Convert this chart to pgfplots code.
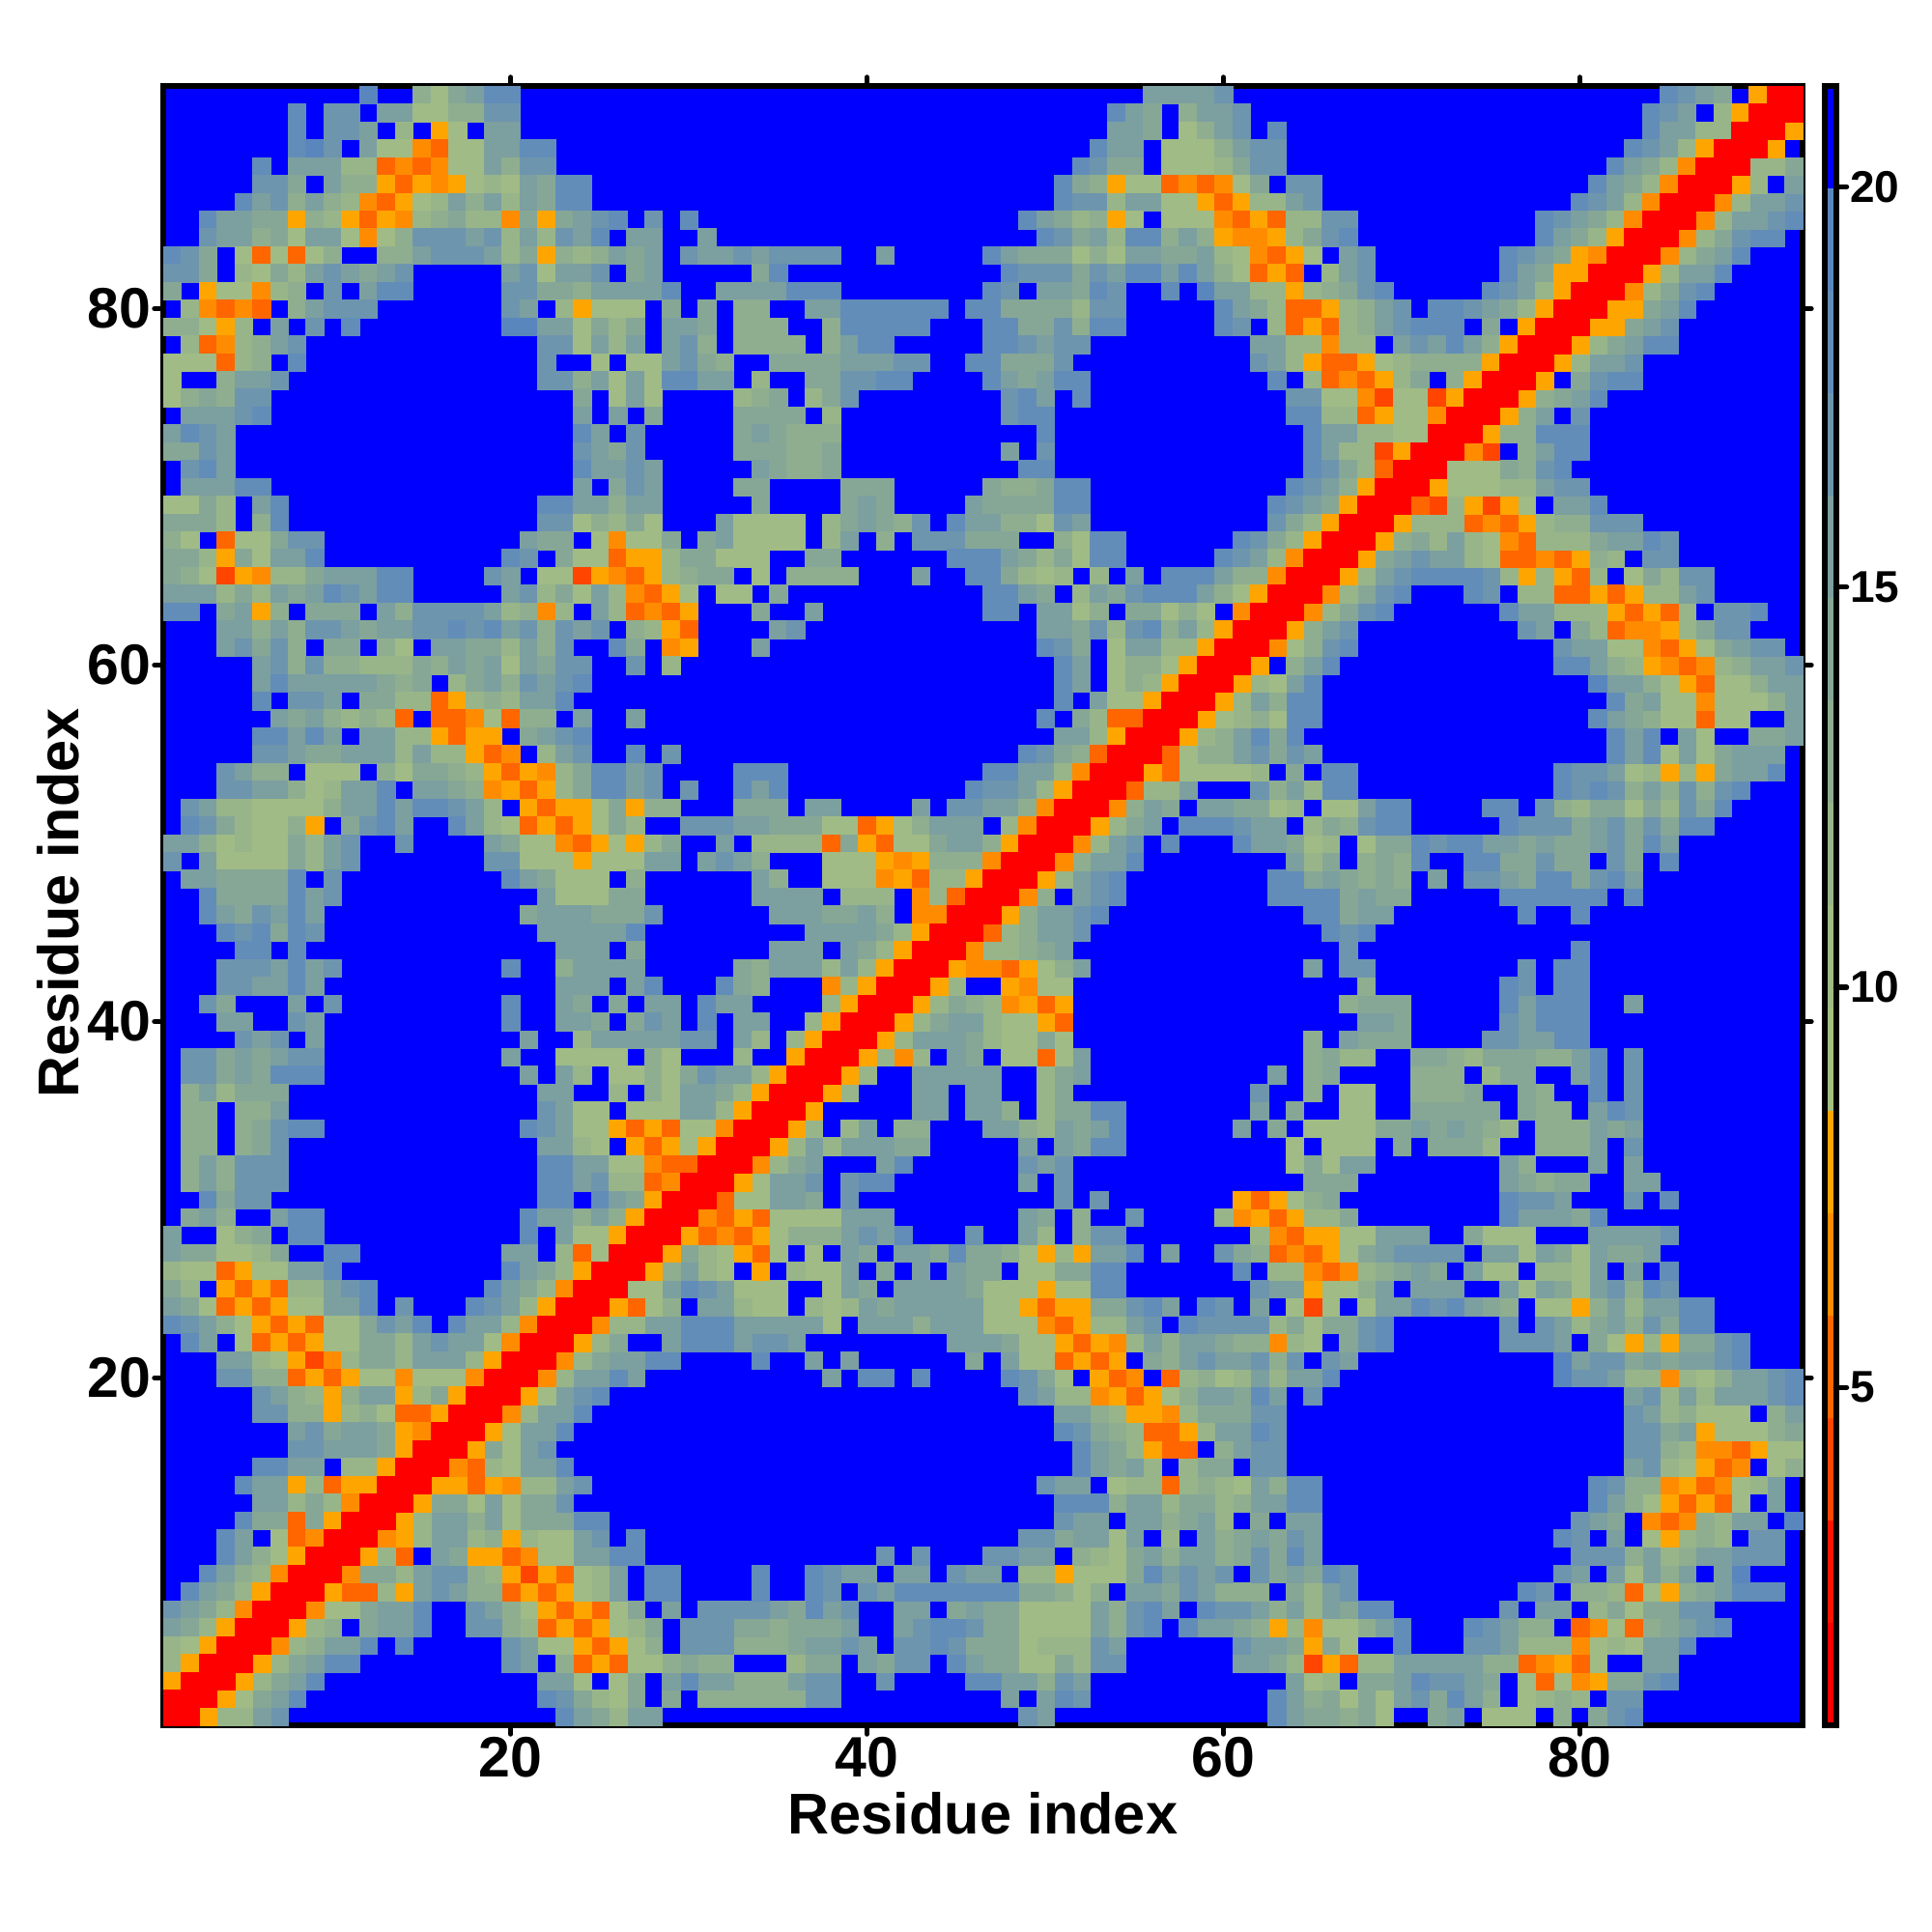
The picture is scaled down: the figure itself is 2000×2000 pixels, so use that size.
\documentclass[border=0pt]{standalone}
\usepackage{fontspec}
\setmainfont{Liberation Sans}
\usepackage{pgfplots}
\pgfplotsset{compat=1.18}
\definecolor{lva}{RGB}{255,0,0}
\definecolor{lvb}{RGB}{255,20,0}
\definecolor{lvc}{RGB}{255,69,0}
\definecolor{lvd}{RGB}{255,102,0}
\definecolor{lve}{RGB}{255,140,0}
\definecolor{lvf}{RGB}{255,165,0}
\definecolor{lvg}{RGB}{165,191,129}
\definecolor{lvh}{RGB}{160,187,133}
\definecolor{lvi}{RGB}{152,181,137}
\definecolor{lvj}{RGB}{143,174,143}
\definecolor{lvk}{RGB}{134,167,150}
\definecolor{lvl}{RGB}{124,159,160}
\definecolor{lvm}{RGB}{110,149,174}
\definecolor{lvn}{RGB}{98,141,184}
\definecolor{lvo}{RGB}{90,134,190}
\definecolor{lvp}{RGB}{0,0,255}
\pgfplotsset{
  cell/.style={scatter, only marks, mark=square*, mark size=9.26pt, forget plot,
    mark options={line width=0.2pt}, point meta=explicit,
    scatter/use mapped color={draw=mapped color,fill=mapped color}},
  frame/.style={scale only axis, axis on top, tick align=outside,
    axis line style={line width=6pt},
    tick style={line width=5.5pt, line cap=round, black},
    /pgf/number format/assume math mode=true},
}
% one residue per line: x value pairs for x<=y, drawn for (x,y) and (y,x)
\newcommand{\cells}[2]{%
  \addplot[cell] table[row sep=crcr, header=false, x index=0, y expr=#1, meta index=1] {#2};
  \addplot[cell] table[row sep=crcr, header=false, y index=0, x expr=#1, meta index=1] {#2};
}
\begin{document}
\begin{tikzpicture}
\path[use as bounding box] (0,0) rectangle (2000pt,2000pt);
\begin{axis}[frame,
  at={(169pt,214pt)}, anchor=south west, width=1697pt, height=1697pt,
  xmin=0.5, xmax=92.5, ymin=0.5, ymax=92.5,
  xtick={20,40,60,80}, ytick={20,40,60,80},
  tick pos=both, xticklabel pos=lower, yticklabel pos=left,
  major tick length=9pt,
  axis background/.style={fill=lvp},
  colormap={dist}{color=(lva) color=(lvb) color=(lvc) color=(lvd) color=(lve) color=(lvf) color=(lvg) color=(lvh)
    color=(lvi) color=(lvj) color=(lvk) color=(lvl) color=(lvm) color=(lvn) color=(lvo) color=(lvp)},
  colormap access=piecewise constant,
  point meta min=0.78, point meta max=21.26,
  ticklabel style={font=\fontsize{59}{60}\selectfont\bfseries},
  label style={font=\fontsize{59.5}{60}\selectfont\bfseries},
  xlabel={Residue index}, ylabel={Residue index},
  xlabel style={at={(axis description cs:0.5,-0.0536)}, anchor=center},
  ylabel style={at={(axis description cs:-0.0642,0.5015)}, anchor=center, rotate=0},
]
\cells{92}{12 19\\15 13\\16 11\\17 14\\18 16\\19 18\\20 18\\56 16\\57 15\\58 15\\59 15\\60 17\\85 18\\86 17\\87 15\\88 14\\90 8\\91 1\\92 1\\}
\cells{91}{8 18\\10 17\\11 17\\13 15\\14 15\\15 11\\16 11\\17 13\\18 13\\19 17\\20 17\\54 18\\55 15\\56 14\\58 13\\59 15\\60 15\\61 17\\84 18\\85 17\\86 15\\88 12\\89 8\\90 1\\91 1\\}
\cells{90}{8 18\\10 17\\11 17\\12 15\\14 12\\16 8\\17 11\\19 15\\20 15\\54 15\\55 15\\56 14\\58 11\\59 13\\60 15\\61 17\\63 18\\84 18\\85 15\\86 15\\87 12\\88 12\\89 1\\90 1\\}
\cells{89}{8 18\\9 19\\10 17\\12 15\\13 11\\14 11\\15 6\\16 5\\17 10\\18 11\\19 15\\20 15\\21 18\\22 18\\53 18\\54 15\\55 15\\57 11\\58 11\\59 11\\60 13\\61 15\\62 17\\63 17\\83 18\\84 17\\85 15\\86 12\\87 8\\88 1\\89 1\\}
\cells{88}{6 18\\8 15\\9 16\\10 15\\11 12\\12 12\\13 5\\14 6\\15 5\\16 6\\17 10\\18 11\\19 15\\20 13\\21 17\\22 17\\52 18\\53 17\\54 14\\55 14\\57 11\\58 11\\59 11\\60 12\\61 14\\62 17\\63 17\\82 18\\83 16\\84 14\\85 12\\86 7\\87 1\\88 1\\}
\cells{87}{6 17\\7 17\\8 14\\10 15\\11 13\\12 13\\13 8\\14 5\\15 8\\16 7\\17 8\\18 11\\19 12\\20 10\\21 15\\22 14\\23 18\\24 18\\51 18\\52 14\\53 13\\54 8\\55 11\\56 11\\57 5\\58 6\\59 5\\60 7\\61 11\\62 14\\64 17\\65 17\\81 18\\82 16\\83 14\\84 12\\85 7\\86 1\\87 1\\}
\cells{86}{5 18\\6 16\\7 17\\8 13\\9 15\\10 13\\11 12\\12 6\\13 5\\14 8\\15 11\\16 12\\17 15\\18 13\\19 15\\20 12\\21 16\\22 14\\23 18\\24 18\\51 18\\52 17\\53 17\\54 12\\55 15\\56 15\\57 11\\58 11\\59 8\\60 5\\61 8\\62 12\\63 12\\64 15\\65 17\\80 18\\81 17\\82 15\\83 12\\84 7\\85 1\\86 1\\}
\cells{85}{3 18\\4 16\\5 16\\6 14\\7 14\\8 8\\9 13\\10 12\\11 8\\12 5\\13 8\\14 6\\15 12\\16 13\\17 14\\18 12\\19 12\\20 7\\21 14\\22 8\\23 14\\24 15\\25 17\\26 18\\28 17\\30 18\\49 18\\50 16\\51 14\\52 12\\53 13\\54 8\\55 11\\57 11\\58 11\\59 10\\60 6\\61 5\\62 8\\63 5\\64 12\\65 12\\66 17\\67 17\\78 18\\79 17\\80 15\\81 14\\82 12\\83 7\\84 1\\85 1\\}
\cells{84}{3 17\\4 16\\5 16\\6 13\\7 14\\8 11\\9 15\\10 15\\11 11\\12 6\\13 11\\14 13\\15 17\\16 17\\17 17\\18 15\\19 17\\20 12\\21 16\\22 12\\23 17\\24 16\\25 18\\27 15\\28 15\\31 16\\50 18\\51 17\\52 14\\53 16\\54 12\\55 18\\56 18\\57 13\\58 15\\59 13\\60 8\\61 7\\62 6\\63 8\\64 12\\65 14\\66 17\\67 18\\78 18\\79 16\\80 14\\81 12\\82 8\\83 1\\84 1\\}
\cells{83}{1 18\\2 17\\3 14\\5 11\\6 5\\7 11\\8 5\\9 11\\10 13\\13 13\\14 13\\15 16\\16 17\\17 17\\18 17\\19 15\\20 12\\21 14\\22 8\\23 13\\24 12\\25 13\\26 15\\27 14\\28 15\\30 17\\31 16\\32 15\\33 17\\34 15\\35 17\\36 17\\37 17\\38 17\\41 16\\47 18\\48 15\\49 14\\50 14\\51 14\\52 11\\53 13\\54 11\\55 15\\56 16\\57 14\\58 14\\59 15\\60 12\\61 11\\62 7\\63 5\\64 8\\65 11\\67 15\\68 17\\76 18\\77 17\\78 15\\79 14\\80 8\\81 7\\82 1\\83 1\\}
\cells{82}{1 17\\2 17\\3 14\\5 12\\6 11\\7 14\\8 12\\9 16\\10 17\\11 15\\12 14\\13 15\\14 17\\20 15\\21 17\\22 11\\23 16\\24 15\\25 17\\27 14\\28 16\\34 14\\35 18\\48 18\\49 17\\50 17\\51 17\\52 14\\53 17\\54 16\\55 18\\56 18\\57 15\\58 18\\59 15\\60 13\\61 11\\62 5\\63 8\\64 5\\66 12\\67 15\\68 17\\76 18\\77 15\\78 14\\79 8\\80 8\\81 1\\82 1\\}
\cells{81}{1 14\\3 8\\4 11\\5 11\\6 7\\7 12\\8 13\\10 17\\12 15\\13 18\\14 18\\20 17\\21 17\\22 14\\23 14\\24 13\\25 15\\26 15\\27 15\\28 15\\29 18\\32 15\\33 15\\34 15\\35 16\\36 18\\37 18\\38 18\\47 18\\48 17\\50 15\\51 15\\52 14\\53 18\\54 17\\57 18\\59 19\\60 16\\61 15\\62 12\\63 12\\64 8\\65 12\\66 13\\67 14\\68 17\\69 18\\75 18\\76 17\\77 15\\78 12\\79 8\\80 1\\81 1\\}
\cells{80}{2 12\\3 6\\4 5\\5 7\\6 5\\8 13\\9 15\\10 17\\11 17\\12 17\\20 17\\21 15\\23 12\\24 8\\25 11\\26 11\\27 10\\29 14\\31 14\\33 13\\34 13\\37 15\\38 15\\39 18\\40 18\\41 18\\42 18\\43 18\\44 18\\46 18\\47 18\\48 14\\49 14\\50 14\\51 14\\52 12\\53 17\\54 17\\60 18\\61 15\\62 14\\63 12\\64 5\\65 5\\66 8\\67 12\\68 13\\69 15\\70 17\\72 18\\73 18\\74 17\\75 16\\76 14\\77 12\\78 8\\79 1\\80 1\\}
\cells{79}{1 13\\2 13\\3 11\\4 8\\5 12\\7 15\\9 17\\11 18\\20 19\\21 19\\22 15\\23 15\\24 11\\25 14\\26 12\\27 14\\29 15\\30 15\\31 14\\33 13\\34 13\\35 13\\38 13\\39 18\\40 18\\41 18\\42 18\\43 18\\47 18\\48 18\\49 14\\50 14\\51 17\\52 13\\53 18\\54 18\\60 18\\61 17\\63 12\\64 5\\65 8\\66 5\\67 12\\68 13\\69 15\\70 17\\71 18\\72 18\\73 18\\75 14\\77 8\\78 1\\79 1\\}
\cells{78}{2 12\\3 5\\4 7\\5 12\\6 13\\7 16\\8 17\\22 17\\23 17\\24 11\\25 15\\26 12\\27 16\\29 15\\30 17\\31 13\\33 13\\34 13\\35 13\\36 13\\38 13\\39 16\\40 18\\41 18\\47 18\\48 18\\49 17\\50 15\\51 17\\52 17\\62 16\\63 15\\64 12\\65 12\\66 7\\67 12\\68 12\\70 16\\71 17\\72 15\\73 18\\74 15\\75 13\\76 8\\77 1\\78 1\\}
\cells{77}{1 11\\2 11\\3 11\\4 5\\5 12\\6 13\\8 18\\22 17\\25 11\\27 11\\28 11\\29 15\\30 17\\31 14\\32 13\\35 14\\36 14\\37 14\\38 14\\39 16\\40 16\\41 15\\42 17\\43 17\\46 18\\47 18\\48 14\\49 14\\50 14\\51 17\\62 17\\63 16\\64 12\\65 8\\66 5\\67 5\\68 8\\69 11\\70 12\\71 13\\72 13\\73 13\\74 13\\75 8\\76 1\\77 1\\}
\cells{76}{1 11\\4 13\\5 16\\6 16\\7 17\\22 17\\23 17\\24 13\\25 15\\26 11\\27 15\\28 11\\29 18\\30 18\\31 15\\32 15\\34 12\\37 14\\38 14\\39 17\\40 17\\41 18\\42 18\\47 18\\48 16\\49 14\\50 15\\51 18\\52 18\\63 18\\65 12\\66 5\\67 7\\68 5\\69 8\\70 12\\71 14\\73 13\\74 8\\75 1\\76 1\\}
\cells{75}{1 11\\2 13\\3 14\\4 13\\5 17\\6 17\\24 14\\26 11\\27 16\\28 11\\33 12\\34 13\\35 14\\37 12\\38 14\\39 17\\48 17\\49 18\\50 15\\52 18\\64 17\\65 17\\66 11\\67 11\\68 7\\69 4\\70 10\\71 10\\72 4\\73 8\\74 1\\75 1\\}
\cells{74}{2 15\\3 15\\4 15\\5 17\\6 18\\24 15\\26 15\\28 14\\33 14\\34 14\\35 14\\36 14\\38 12\\48 17\\49 18\\50 18\\64 18\\65 18\\66 12\\67 12\\68 5\\69 8\\70 11\\71 11\\72 7\\73 1\\74 1\\}
\cells{73}{1 15\\2 18\\3 17\\4 16\\24 18\\25 16\\27 17\\33 14\\34 15\\35 14\\36 13\\37 13\\38 13\\50 18\\65 18\\66 16\\67 15\\68 12\\69 12\\70 11\\71 11\\72 1\\73 1\\}
\cells{72}{1 14\\2 14\\3 17\\4 15\\24 17\\25 16\\26 14\\27 17\\33 14\\34 14\\35 14\\36 13\\37 13\\38 14\\48 15\\50 17\\65 18\\66 16\\67 12\\68 12\\69 4\\70 8\\71 1\\72 1\\}
\cells{71}{2 17\\3 18\\4 16\\24 18\\25 16\\26 15\\27 17\\28 16\\34 15\\35 14\\36 13\\37 13\\38 14\\49 18\\50 18\\65 18\\66 17\\67 14\\68 12\\69 5\\70 1\\71 1\\}
\cells{70}{2 16\\3 16\\4 15\\5 18\\6 18\\24 16\\26 14\\27 17\\28 15\\33 14\\34 14\\39 14\\40 14\\41 14\\47 14\\48 13\\49 13\\50 14\\51 18\\52 18\\64 18\\65 17\\66 15\\67 13\\68 8\\69 1\\70 1\\}
\cells{69}{1 11\\2 11\\3 14\\4 12\\6 16\\7 18\\22 18\\23 18\\24 15\\25 15\\26 13\\27 16\\28 15\\34 14\\39 14\\40 15\\41 14\\46 15\\47 14\\48 14\\49 14\\50 14\\51 18\\52 18\\63 18\\64 17\\65 15\\66 14\\67 8\\68 1\\69 1\\}
\cells{68}{1 14\\2 14\\3 14\\4 12\\6 13\\7 18\\22 17\\23 17\\24 11\\25 13\\26 12\\27 14\\28 11\\32 16\\33 11\\34 11\\35 11\\36 11\\38 12\\39 14\\40 15\\41 14\\42 13\\43 17\\45 18\\46 15\\47 15\\48 13\\49 13\\50 10\\51 17\\52 15\\63 17\\64 14\\65 12\\66 8\\67 1\\68 1\\}
\cells{67}{1 13\\2 11\\4 5\\5 11\\6 11\\7 14\\8 17\\9 17\\21 16\\22 14\\23 14\\25 11\\26 7\\27 11\\28 11\\29 14\\31 14\\32 15\\33 11\\34 11\\35 11\\36 11\\38 12\\39 15\\41 13\\43 17\\44 17\\45 17\\46 14\\47 14\\48 14\\51 13\\52 11\\53 18\\54 18\\61 18\\62 17\\63 14\\64 12\\65 8\\66 1\\67 1\\}
\cells{66}{1 14\\2 14\\3 12\\4 8\\5 14\\6 11\\7 15\\8 15\\9 18\\20 18\\21 17\\23 14\\24 11\\25 11\\26 5\\27 8\\28 8\\29 12\\30 14\\31 14\\32 11\\33 11\\34 11\\37 14\\38 14\\45 18\\46 18\\47 18\\48 15\\49 14\\50 12\\51 14\\52 11\\53 18\\54 18\\60 18\\61 17\\62 15\\63 12\\64 7\\65 1\\66 1\\}
\cells{65}{1 14\\2 13\\3 11\\4 4\\5 8\\6 7\\7 12\\8 12\\9 14\\10 16\\11 15\\12 15\\13 18\\14 18\\19 17\\20 15\\22 11\\23 11\\24 4\\25 8\\26 6\\27 5\\28 8\\29 12\\30 13\\31 14\\32 14\\34 11\\36 13\\37 13\\38 13\\39 13\\43 16\\46 18\\47 18\\48 14\\49 12\\50 10\\51 12\\53 12\\55 15\\57 18\\58 18\\59 18\\60 15\\61 13\\62 13\\63 7\\64 1\\65 1\\}
\cells{64}{1 15\\2 15\\3 15\\4 12\\5 14\\6 12\\7 15\\8 14\\9 16\\10 18\\11 17\\12 15\\13 18\\14 18\\20 15\\21 17\\22 12\\23 14\\24 11\\25 15\\26 12\\27 6\\28 5\\29 8\\30 11\\32 11\\33 11\\35 14\\47 18\\48 18\\49 15\\50 14\\52 12\\53 16\\54 14\\55 17\\56 18\\57 18\\58 18\\59 16\\60 13\\61 11\\62 8\\63 1\\64 1\\}
\cells{63}{1 18\\2 18\\4 14\\5 15\\6 8\\7 13\\9 14\\10 14\\11 14\\13 15\\14 13\\15 17\\16 17\\17 17\\18 17\\19 15\\20 12\\21 13\\22 7\\23 12\\25 15\\26 12\\27 5\\28 7\\29 5\\30 8\\34 14\\37 16\\47 18\\48 18\\50 15\\51 15\\52 10\\53 13\\55 14\\56 14\\57 11\\58 13\\59 11\\61 7\\62 1\\63 1\\}
\cells{62}{4 15\\5 15\\6 13\\7 16\\8 13\\9 17\\10 17\\11 15\\12 14\\13 16\\14 15\\15 17\\16 17\\17 18\\18 17\\19 18\\20 15\\21 17\\22 13\\23 17\\24 15\\25 17\\27 13\\28 12\\29 8\\30 5\\35 16\\36 17\\50 15\\51 15\\52 14\\53 17\\54 12\\55 17\\56 18\\57 13\\58 15\\59 12\\60 8\\61 1\\62 1\\}
\cells{61}{4 16\\5 17\\6 14\\7 17\\8 13\\10 14\\11 14\\13 13\\14 11\\16 15\\17 15\\18 14\\19 14\\20 12\\21 16\\22 13\\23 17\\26 18\\27 14\\29 7\\30 8\\34 15\\50 18\\51 17\\52 14\\54 11\\55 15\\56 15\\57 12\\58 12\\59 8\\60 1\\61 1\\}
\cells{60}{6 15\\7 17\\8 13\\9 17\\10 13\\11 13\\12 12\\13 12\\14 12\\15 14\\16 13\\17 15\\18 14\\19 15\\20 11\\21 16\\22 14\\23 17\\24 17\\27 17\\29 12\\51 18\\52 15\\54 11\\55 13\\56 13\\57 11\\58 8\\59 1\\60 1\\}
\cells{59}{6 16\\7 18\\8 15\\9 16\\10 16\\11 16\\12 15\\13 14\\14 13\\15 14\\17 12\\18 14\\19 15\\20 13\\21 17\\22 16\\23 17\\24 18\\51 18\\52 15\\54 11\\55 13\\56 12\\57 8\\58 1\\59 1\\}
\cells{58}{6 18\\8 17\\9 17\\10 16\\12 14\\13 14\\14 12\\15 12\\16 5\\17 8\\18 12\\19 13\\20 12\\21 16\\22 16\\23 18\\51 18\\53 16\\54 11\\55 11\\56 8\\57 1\\58 1\\}
\cells{57}{7 16\\8 14\\9 15\\10 13\\11 12\\12 13\\13 12\\14 5\\16 5\\17 5\\18 7\\19 11\\20 5\\21 13\\22 13\\24 16\\27 16\\50 18\\52 14\\53 12\\54 5\\55 5\\56 1\\57 1\\}
\cells{56}{6 18\\7 18\\8 16\\9 18\\10 15\\12 15\\13 15\\14 12\\15 12\\16 8\\17 5\\18 8\\19 8\\21 14\\22 15\\23 17\\24 18\\51 16\\52 15\\53 12\\54 8\\55 1\\56 1\\}
\cells{55}{6 17\\7 17\\8 15\\9 14\\10 14\\11 15\\12 16\\13 16\\14 12\\15 15\\16 12\\17 12\\18 8\\19 5\\20 7\\22 12\\23 16\\24 17\\27 18\\29 17\\49 18\\50 17\\51 14\\52 13\\53 5\\54 1\\55 1\\}
\cells{54}{4 17\\5 16\\6 13\\7 13\\9 11\\10 11\\11 11\\13 13\\14 10\\15 14\\16 14\\17 13\\18 12\\19 8\\20 5\\21 8\\22 7\\23 12\\24 14\\25 18\\26 18\\27 16\\28 17\\33 18\\34 18\\35 18\\47 18\\48 18\\49 16\\50 16\\51 12\\52 7\\53 1\\54 1\\}
\cells{53}{4 17\\5 17\\6 15\\7 15\\8 13\\9 11\\10 12\\11 15\\12 16\\13 18\\15 15\\16 15\\17 14\\18 13\\19 7\\20 8\\21 5\\22 8\\23 12\\24 14\\25 18\\26 18\\27 15\\28 17\\30 17\\33 18\\34 16\\35 18\\46 18\\47 17\\48 17\\49 15\\50 12\\51 8\\52 1\\53 1\\}
\cells{52}{2 17\\3 16\\4 12\\5 12\\6 10\\7 11\\8 11\\9 11\\10 13\\11 15\\12 16\\13 18\\14 15\\15 18\\16 18\\17 17\\18 15\\19 12\\21 8\\22 5\\23 8\\24 8\\25 11\\26 14\\27 8\\28 13\\29 13\\33 14\\34 14\\35 14\\37 15\\38 15\\43 16\\45 17\\46 17\\47 15\\48 15\\49 13\\50 7\\51 1\\52 1\\}
\cells{51}{2 18\\3 17\\4 14\\5 12\\6 11\\7 11\\8 13\\9 8\\11 14\\12 17\\13 18\\14 15\\17 18\\18 15\\19 12\\20 11\\21 5\\22 8\\23 5\\24 8\\25 11\\26 14\\27 12\\30 17\\31 17\\32 17\\33 16\\34 15\\35 14\\36 14\\37 14\\38 11\\39 11\\40 5\\41 8\\42 11\\43 13\\44 15\\45 15\\46 15\\48 12\\49 7\\50 1\\51 1\\}
\cells{50}{1 16\\2 15\\3 13\\4 10\\5 12\\6 11\\7 11\\8 14\\9 12\\10 15\\11 17\\14 17\\19 15\\20 14\\21 11\\22 11\\23 7\\24 5\\25 8\\26 11\\27 8\\28 12\\29 14\\32 15\\34 12\\35 12\\36 12\\37 12\\38 5\\39 14\\40 8\\41 5\\42 11\\43 11\\44 14\\45 15\\46 15\\47 13\\48 8\\49 1\\50 1\\}
\cells{49}{1 17\\3 16\\4 10\\5 10\\6 10\\7 10\\8 14\\9 12\\10 16\\11 17\\19 17\\20 17\\21 11\\22 11\\23 10\\24 8\\25 11\\26 11\\27 11\\28 15\\29 15\\31 16\\32 17\\33 16\\34 13\\38 11\\39 11\\40 11\\41 8\\42 7\\43 8\\44 13\\45 13\\46 13\\47 7\\48 1\\49 1\\}
\cells{48}{2 15\\3 16\\4 14\\5 14\\6 14\\7 14\\8 18\\10 17\\20 18\\21 15\\22 14\\23 11\\24 11\\25 11\\27 13\\34 15\\35 13\\38 11\\39 11\\40 11\\41 7\\42 8\\43 5\\44 12\\45 12\\46 8\\47 1\\48 1\\}
\cells{47}{3 18\\4 14\\5 14\\6 14\\7 14\\8 18\\9 15\\10 17\\22 15\\23 11\\24 11\\25 11\\26 14\\27 14\\34 15\\35 15\\36 15\\37 15\\39 12\\40 12\\41 12\\43 7\\44 12\\45 5\\46 1\\47 1\\}
\cells{46}{3 18\\4 15\\5 14\\6 17\\7 15\\8 18\\9 15\\21 14\\22 16\\23 15\\24 15\\25 14\\26 14\\27 14\\28 17\\35 16\\36 16\\37 16\\38 14\\39 14\\40 15\\41 13\\43 7\\44 7\\45 1\\46 1\\}
\cells{45}{4 18\\5 17\\6 18\\7 14\\8 18\\9 17\\22 15\\23 15\\24 16\\25 15\\26 15\\27 18\\37 15\\38 15\\39 15\\40 15\\41 14\\42 12\\43 8\\44 1\\45 1\\}
\cells{44}{5 18\\6 18\\8 18\\23 15\\24 15\\25 15\\27 14\\35 16\\36 16\\37 16\\39 15\\40 14\\41 12\\42 8\\43 1\\44 1\\}
\cells{43}{4 17\\5 17\\6 17\\7 15\\8 18\\9 15\\10 17\\20 18\\23 13\\24 15\\25 15\\26 15\\27 15\\33 14\\34 13\\35 15\\36 15\\37 15\\38 12\\39 15\\40 12\\41 8\\42 1\\43 1\\}
\cells{42}{4 17\\5 17\\6 15\\7 15\\8 18\\9 15\\23 15\\24 15\\25 15\\27 15\\28 18\\32 18\\33 14\\34 13\\38 7\\39 12\\40 8\\41 1\\42 1\\}
\cells{41}{3 17\\4 14\\8 16\\10 17\\20 18\\23 15\\24 14\\26 14\\28 15\\29 15\\31 18\\32 16\\33 15\\38 12\\39 8\\40 1\\41 1\\}
\cells{40}{4 16\\5 16\\8 17\\9 16\\20 18\\23 15\\24 15\\25 14\\27 14\\28 17\\29 15\\31 18\\33 15\\34 15\\37 12\\38 8\\39 1\\40 1\\}
\cells{39}{5 17\\6 15\\7 17\\9 16\\21 15\\24 12\\25 15\\26 15\\27 15\\28 15\\29 15\\30 17\\31 17\\33 16\\34 12\\36 12\\37 8\\38 1\\39 1\\}
\cells{38}{2 17\\3 17\\4 14\\5 15\\6 14\\7 15\\8 17\\9 17\\20 16\\23 11\\24 11\\25 11\\26 11\\28 13\\29 11\\33 12\\36 8\\37 1\\38 1\\}
\cells{37}{2 17\\3 17\\4 14\\5 15\\6 14\\7 18\\8 18\\9 18\\21 16\\23 15\\24 12\\26 11\\27 11\\28 13\\29 11\\30 14\\31 17\\32 16\\33 15\\34 12\\35 8\\36 1\\37 1\\}
\cells{36}{2 13\\3 15\\4 12\\5 14\\6 14\\7 14\\22 16\\23 15\\26 12\\28 13\\29 11\\30 15\\31 15\\32 14\\33 12\\34 8\\35 1\\36 1\\}
\cells{35}{2 13\\3 13\\5 13\\6 13\\7 15\\22 17\\23 15\\24 11\\25 11\\27 11\\28 11\\29 11\\30 15\\31 15\\32 12\\33 8\\34 1\\35 1\\}
\cells{34}{2 13\\3 13\\5 13\\6 14\\7 17\\8 18\\9 18\\21 18\\22 17\\23 15\\24 11\\25 11\\26 8\\27 5\\28 8\\29 5\\30 11\\31 11\\32 7\\33 1\\34 1\\}
\cells{33}{2 13\\3 13\\5 13\\6 14\\7 17\\22 16\\23 15\\24 12\\25 11\\27 8\\28 5\\29 8\\30 11\\31 8\\32 1\\33 1\\}
\cells{32}{2 13\\3 16\\4 13\\5 17\\6 17\\7 17\\22 18\\23 18\\24 15\\25 15\\26 11\\27 11\\28 7\\29 5\\30 5\\31 1\\32 1\\}
\cells{31}{2 13\\3 16\\4 13\\5 17\\6 17\\7 17\\22 18\\23 18\\24 15\\25 17\\26 12\\27 12\\28 5\\29 7\\30 1\\31 1\\}
\cells{30}{3 18\\4 14\\5 17\\6 17\\22 18\\23 18\\25 18\\26 15\\27 14\\28 8\\29 1\\30 1\\}
\cells{29}{2 14\\3 16\\4 13\\7 16\\8 18\\9 18\\21 18\\22 15\\23 15\\24 13\\25 15\\26 13\\27 8\\28 1\\29 1\\}
\cells{28}{1 15\\4 11\\5 13\\6 14\\8 18\\9 18\\21 18\\23 15\\24 11\\25 11\\26 8\\27 1\\28 1\\}
\cells{27}{1 15\\2 14\\3 14\\4 11\\5 11\\6 12\\7 14\\10 18\\11 18\\20 16\\21 15\\23 12\\24 5\\25 11\\26 1\\27 1\\}
\cells{26}{1 12\\2 11\\3 11\\4 5\\5 8\\6 11\\7 11\\8 15\\9 15\\10 18\\20 18\\21 16\\22 14\\23 12\\24 8\\25 1\\26 1\\}
\cells{25}{1 14\\2 12\\4 8\\5 5\\6 8\\7 5\\8 12\\9 12\\10 15\\11 17\\12 18\\19 18\\20 16\\21 14\\22 12\\23 6\\24 1\\25 1\\}
\cells{24}{1 15\\2 14\\3 11\\4 5\\5 8\\6 5\\7 8\\8 11\\9 11\\10 15\\11 15\\12 18\\14 17\\18 18\\19 17\\20 15\\21 12\\22 8\\23 1\\24 1\\}
\cells{23}{1 18\\2 17\\3 15\\4 13\\5 11\\6 8\\7 5\\8 8\\9 5\\10 11\\11 11\\12 14\\13 17\\14 16\\15 18\\17 18\\18 16\\19 15\\20 12\\21 6\\22 1\\23 1\\}
\cells{22}{2 18\\3 15\\5 11\\6 5\\7 8\\8 5\\9 8\\10 11\\11 11\\12 14\\13 14\\14 12\\15 15\\16 17\\17 15\\18 15\\19 11\\20 7\\21 1\\22 1\\}
\cells{21}{4 16\\5 15\\6 12\\7 11\\8 8\\9 4\\10 7\\11 12\\12 14\\13 14\\14 12\\15 16\\16 16\\17 15\\18 12\\19 8\\20 1\\21 1\\}
\cells{20}{4 17\\5 17\\6 13\\7 13\\8 5\\9 8\\10 5\\11 8\\12 11\\13 11\\14 6\\15 11\\16 11\\17 11\\18 7\\19 1\\20 1\\}
\cells{19}{6 17\\7 16\\8 13\\9 12\\10 8\\11 13\\12 15\\13 15\\14 8\\15 12\\16 14\\17 8\\18 1\\19 1\\}
\cells{18}{6 17\\7 17\\8 13\\9 13\\10 8\\11 12\\12 13\\13 11\\14 5\\15 5\\16 8\\17 1\\18 1\\}
\cells{17}{8 16\\9 17\\10 14\\11 15\\12 16\\13 14\\14 8\\15 7\\16 1\\17 1\\}
\cells{16}{8 17\\9 17\\10 15\\11 15\\12 15\\13 14\\14 8\\15 1\\16 1\\}
\cells{15}{6 18\\7 18\\8 15\\9 15\\11 12\\12 12\\13 8\\14 1\\15 1\\}
\cells{14}{5 18\\6 15\\7 15\\8 8\\9 12\\10 5\\11 8\\12 8\\13 1\\14 1\\}
\cells{13}{6 16\\7 16\\8 12\\9 14\\10 12\\11 7\\12 1\\13 1\\}
\cells{12}{5 18\\6 14\\7 14\\8 5\\9 14\\10 8\\11 1\\12 1\\}
\cells{11}{4 18\\5 15\\7 11\\8 5\\9 7\\10 1\\11 1\\}
\cells{10}{4 18\\5 16\\6 13\\7 11\\8 8\\9 1\\10 1\\}
\cells{9}{3 18\\4 16\\5 13\\6 12\\7 7\\8 1\\9 1\\}
\cells{8}{2 18\\3 16\\4 14\\5 12\\6 8\\7 1\\8 1\\}
\cells{7}{1 17\\2 15\\3 14\\4 12\\5 7\\6 1\\7 1\\}
\cells{6}{1 15\\2 14\\3 12\\4 8\\5 1\\6 1\\}
\cells{5}{1 12\\2 10\\3 8\\4 1\\5 1\\}
\cells{4}{1 12\\2 8\\3 1\\4 1\\}
\cells{3}{1 8\\2 1\\3 1\\}
\cells{2}{1 1\\2 1\\}
\cells{1}{1 1\\}
\end{axis}
\begin{axis}[frame,
  at={(1888.5pt,214pt)}, anchor=south west, width=12pt, height=1697pt,
  xmin=0, xmax=1, ymin=0.78, ymax=21.26,
  xtick=\empty, ytick={5,10,15,20}, ytick pos=right, yticklabel pos=right,
  major tick length=11pt,
  ticklabel style={font=\fontsize{46}{48}\selectfont\bfseries},
]
\addplot[fill=lva,draw=none] coordinates {(0,0.78)(1,0.78)(1,2.06)(0,2.06)} -- cycle;
\addplot[fill=lvb,draw=none] coordinates {(0,2.06)(1,2.06)(1,3.34)(0,3.34)} -- cycle;
\addplot[fill=lvc,draw=none] coordinates {(0,3.34)(1,3.34)(1,4.62)(0,4.62)} -- cycle;
\addplot[fill=lvd,draw=none] coordinates {(0,4.62)(1,4.62)(1,5.90)(0,5.90)} -- cycle;
\addplot[fill=lve,draw=none] coordinates {(0,5.90)(1,5.90)(1,7.18)(0,7.18)} -- cycle;
\addplot[fill=lvf,draw=none] coordinates {(0,7.18)(1,7.18)(1,8.46)(0,8.46)} -- cycle;
\addplot[fill=lvg,draw=none] coordinates {(0,8.46)(1,8.46)(1,9.74)(0,9.74)} -- cycle;
\addplot[fill=lvh,draw=none] coordinates {(0,9.74)(1,9.74)(1,11.02)(0,11.02)} -- cycle;
\addplot[fill=lvi,draw=none] coordinates {(0,11.02)(1,11.02)(1,12.30)(0,12.30)} -- cycle;
\addplot[fill=lvj,draw=none] coordinates {(0,12.30)(1,12.30)(1,13.58)(0,13.58)} -- cycle;
\addplot[fill=lvk,draw=none] coordinates {(0,13.58)(1,13.58)(1,14.86)(0,14.86)} -- cycle;
\addplot[fill=lvl,draw=none] coordinates {(0,14.86)(1,14.86)(1,16.14)(0,16.14)} -- cycle;
\addplot[fill=lvm,draw=none] coordinates {(0,16.14)(1,16.14)(1,17.42)(0,17.42)} -- cycle;
\addplot[fill=lvn,draw=none] coordinates {(0,17.42)(1,17.42)(1,18.70)(0,18.70)} -- cycle;
\addplot[fill=lvo,draw=none] coordinates {(0,18.70)(1,18.70)(1,19.98)(0,19.98)} -- cycle;
\addplot[fill=lvp,draw=none] coordinates {(0,19.98)(1,19.98)(1,21.26)(0,21.26)} -- cycle;
\end{axis}
\end{tikzpicture}
\end{document}
